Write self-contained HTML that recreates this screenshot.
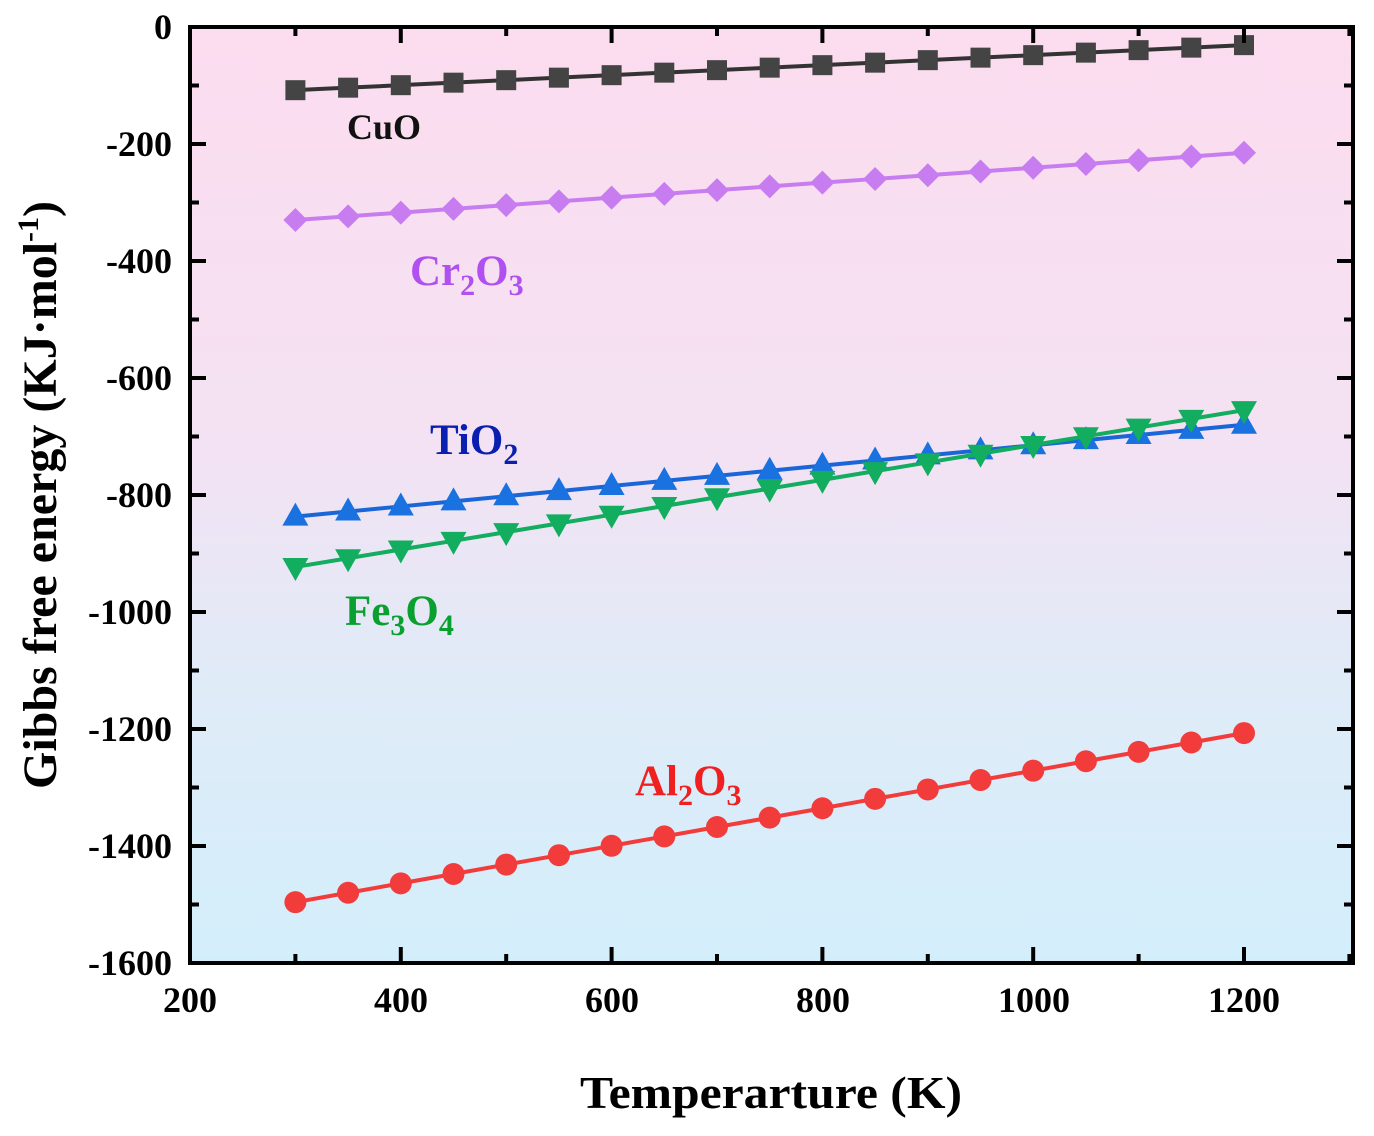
<!DOCTYPE html>
<html><head><meta charset="utf-8"><style>
html,body{margin:0;padding:0;background:#fff;}
svg{display:block;font-family:"Liberation Serif",serif;font-weight:bold;}
</style></head><body>
<svg id="s" width="1374" height="1136" viewBox="0 0 1374 1136" xmlns="http://www.w3.org/2000/svg">
<defs><linearGradient id="g" x1="0" y1="0" x2="0" y2="1">
<stop offset="0" stop-color="#fcdcef"/><stop offset="0.45" stop-color="#f3e2f3"/><stop offset="0.7" stop-color="#e0ebf8"/><stop offset="1" stop-color="#d3eefb"/></linearGradient></defs>
<rect x="190" y="27" width="1163" height="936" fill="url(#g)"/>
<g id="data"></g>
<rect x="190" y="27" width="1163" height="936" fill="none" stroke="#000" stroke-width="4"/>
<g id="ticks" stroke="#000" stroke-width="4"></g>
<g font-size="36" fill="#000" text-anchor="end">
<text x="172" y="39">0</text>
<text x="172" y="156">-200</text>
<text x="172" y="273">-400</text>
<text x="172" y="390">-600</text>
<text x="172" y="507">-800</text>
<text x="172" y="624">-1000</text>
<text x="172" y="741">-1200</text>
<text x="172" y="858">-1400</text>
<text x="172" y="975">-1600</text>
</g>
<g font-size="36" fill="#000" text-anchor="middle">
<text x="190" y="1012">200</text>
<text x="401" y="1012">400</text>
<text x="612" y="1012">600</text>
<text x="823" y="1012">800</text>
<text x="1034" y="1012">1000</text>
<text x="1244" y="1012">1200</text>
</g>
<text x="580" y="1108" font-size="46" textLength="382" lengthAdjust="spacingAndGlyphs">Temperarture (K)</text>
<text transform="translate(56,495) rotate(-90)" font-size="48" text-anchor="middle">Gibbs free energy (KJ·mol<tspan font-size="30" dy="-18">-1</tspan><tspan dy="18">)</tspan></text>
<text x="347" y="139" font-size="36" fill="#111">CuO</text>
<text x="410" y="285" font-size="43" fill="#b050f0">Cr<tspan font-size="30" dy="10">2</tspan><tspan dy="-10">O</tspan><tspan font-size="30" dy="10">3</tspan></text>
<text x="430" y="454" font-size="43" fill="#0a1fb0">TiO<tspan font-size="30" dy="10">2</tspan></text>
<text x="345" y="625" font-size="43" fill="#0aa030">Fe<tspan font-size="30" dy="10">3</tspan><tspan dy="-10">O</tspan><tspan font-size="30" dy="10">4</tspan></text>
<text x="635" y="795" font-size="43" fill="#f02020">Al<tspan font-size="30" dy="10">2</tspan><tspan dy="-10">O</tspan><tspan font-size="30" dy="10">3</tspan></text>
</svg>
<script>
const NS="http://www.w3.org/2000/svg";
const X=t=>190+(t-200)*1.054, Y=v=>27-v*0.585;
const tk=document.getElementById('ticks');
function ln(g,a,b,c,d){const l=document.createElementNS(NS,'line');l.setAttribute('x1',a);l.setAttribute('y1',b);l.setAttribute('x2',c);l.setAttribute('y2',d);g.appendChild(l);}
for(let v=0;v>=-1600;v-=100){const y=Y(v);const L=(v%200===0)?16:9;ln(tk,190,y,190+L,y);ln(tk,1353,y,1353-L,y);}
for(let t=200;t<=1300;t+=100){const x=X(t);const L=(t%200===0)?16:9;ln(tk,x,963,x,963-L);ln(tk,x,27,x,27+L);}
const d=document.getElementById('data');
const series=[
 {a:-108,b:-31,c:'#444',l:'#333',m:'sq'},
 {a:-330,b:-215,c:'#c77df0',l:'#c77df0',m:'di'},
 {a:-837,b:-680,c:'#1a72e0',l:'#1a66d8',m:'up'},
 {a:-923,b:-655,c:'#12ad5e',l:'#12ad5e',m:'dn'},
 {a:-1496,b:-1207,c:'#f23c3c',l:'#f23c3c',m:'ci'}];
for(const s of series){
 const pts=[];for(let t=300;t<=1200;t+=50){pts.push([X(t),Y(s.a+(s.b-s.a)*(t-300)/900)]);}
 const pl=document.createElementNS(NS,'polyline');pl.setAttribute('points',pts.map(p=>p.join(',')).join(' '));
 pl.setAttribute('fill','none');pl.setAttribute('stroke',s.l);pl.setAttribute('stroke-width','4');d.appendChild(pl);
 for(const [x,y] of pts){let e;
  if(s.m==='sq'){e=document.createElementNS(NS,'rect');e.setAttribute('x',x-10);e.setAttribute('y',y-10);e.setAttribute('width',20);e.setAttribute('height',20);}
  else if(s.m==='ci'){e=document.createElementNS(NS,'circle');e.setAttribute('cx',x);e.setAttribute('cy',y);e.setAttribute('r',11);}
  else{e=document.createElementNS(NS,'polygon');let p;
   if(s.m==='di')p=[[x,y-12],[x+12,y],[x,y+12],[x-12,y]];
   else if(s.m==='up')p=[[x,y-14],[x+13,y+9],[x-13,y+9]];
   else p=[[x,y+14],[x+13,y-9],[x-13,y-9]];
   e.setAttribute('points',p.map(q=>q.join(',')).join(' '));}
  e.setAttribute('fill',s.c);d.appendChild(e);}
}
</script>
</body></html>
